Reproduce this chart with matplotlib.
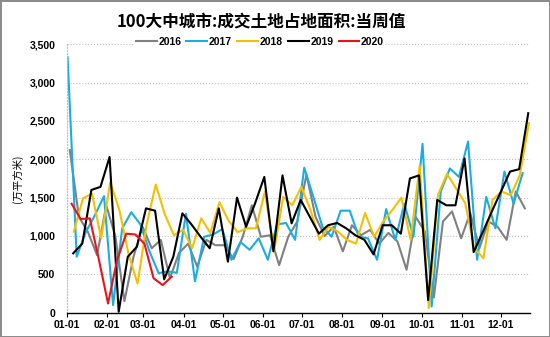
import numpy as np
import matplotlib
matplotlib.use("Agg")
import matplotlib.pyplot as plt

plt.rcParams["font.family"] = ["Liberation Sans", "Noto Sans CJK SC"]

# month tick positions (day of year) and labels
month_days = [0, 31, 59, 90, 120, 151, 181, 212, 243, 273, 304, 334]
month_labels = ["01-01", "02-01", "03-01", "04-01", "05-01", "06-01",
                "07-01", "08-01", "09-01", "10-01", "11-01", "12-01"]

# weekly values, 万平方米
v2016 = [2120, 1250, 1050, 750, 1400, 1000, 150, 730, 1120, 840,
         950, 450, 780, 900, 600, 950, 880, 880, 700, 990,
         1400, 990, 1010, 620, 990, 1190, 1800, 1250, 1000, 1120,
         800, 1140, 1010, 1080, 900, 1040, 930, 560, 1250, 1060,
         200, 1190, 1320, 970, 1300, 840, 1190, 1120, 950, 1580, 1360]
v2017 = [3330, 730, 1050, 1270, 1520, 100, 1100, 1310, 1150, 800,
         515, 540, 520, 1290, 410, 990, 1020, 1090, 690, 920,
         820, 970, 690, 1150, 1170, 950, 1890, 1510, 1120, 990,
         1330, 1330, 990, 970, 690, 1350, 950, 1420, 990, 2200,
         80, 1580, 1880, 1770, 2230, 690, 1510, 1100, 1840, 1420, 1820]
v2018 = [1056, 1490, 1550, 970, 1700, 1340, 770, 380, 1150, 1670,
         1280, 1010, 1080, 840, 1230, 1040, 1440, 1200, 1050, 1100,
         1100, 1580, 800, 1510, 1400, 1640, 1340, 950, 1120, 1060,
         950, 900, 1300, 990, 1190, 1340, 1500, 950, 1920, 60,
         1530, 1810, 1620, 1430, 840, 710, 1470, 1580, 1530, 1790, 2470]
v2019 = [774, 900, 1600, 1640, 2030, 13, 730, 860, 1360, 1330,
         435, 730, 1295, 1150, 990, 840, 1360, 665, 1500, 1120,
         1430, 1770, 800, 1790, 1165, 1470, 1250, 1030, 1140, 1170,
         1100, 1010, 950, 760, 1140, 1140, 1030, 1750, 1790, 165,
         1470, 1400, 1400, 2010, 790, 1050, 1320, 1580, 1840, 1870, 2600]
v2020 = [1420, 1220, 1230, 690, 120, 690, 1030, 1020, 900, 450, 360, 470]

# day of year of each series' first weekly figure
first_day = {"2016": 2.5, "2017": 0.8, "2018": 5.6, "2019": 5.1, "2020": 3.9}

series = [
    ("2016", v2016, "#808080"),
    ("2017", v2017, "#1AADE4"),
    ("2018", v2018, "#F5C000"),
    ("2019", v2019, "#000000"),
    ("2020", v2020, "#E8141B"),
]

fig = plt.figure(figsize=(5.5, 3.37), dpi=100)
fig.patch.set_edgecolor("#8c8c8c")
fig.patch.set_linewidth(2)
ax = fig.add_axes([0.121, 0.072, 0.843, 0.797])

for name, vals, color in series:
    x = first_day[name] + 7 * np.arange(len(vals))
    ax.plot(x, vals, color=color, linewidth=1.5, label=name)

ax.set_xlim(0, 356.6)
ax.set_ylim(0, 3500)
ax.set_xticks(month_days)
ax.set_xticklabels(month_labels, fontsize=7.5, fontweight="bold")
ax.set_yticks(np.arange(0, 3501, 500))
ax.set_yticklabels([f"{v:,}" for v in range(0, 3501, 500)],
                   fontsize=7.5, fontweight="bold")
ax.tick_params(axis="y", length=0, pad=8)
ax.tick_params(axis="x", length=3, width=0.8, direction="out", pad=2)

ax.grid(axis="y", color="#bfbfbf", linestyle=":", linewidth=0.8)
ax.set_axisbelow(True)
for side in ["top", "right"]:
    ax.spines[side].set_visible(False)
ax.spines["left"].set_color("#bfbfbf")
ax.spines["left"].set_linestyle(":")
ax.spines["left"].set_linewidth(0.8)
ax.spines["bottom"].set_linewidth(1.0)

ax.set_ylabel("(万平方米)", fontsize=7.5, family=["Noto Sans CJK SC"], labelpad=5)

fig.text(0.475, 0.937, "100大中城市:成交土地占地面积:当周值",
         ha="center", va="center", fontsize=12, fontweight="bold",
         family=["Noto Sans CJK SC"])

leg = ax.legend(loc="center", bbox_to_anchor=(0.417, 1.008),
                ncol=5, frameon=True, fontsize=7.5, handlelength=2.0,
                handletextpad=0.15, columnspacing=0.5, borderpad=0.1,
                borderaxespad=0)
leg.get_frame().set_facecolor("white")
leg.get_frame().set_edgecolor("none")
leg.get_frame().set_alpha(1)
for t in leg.get_texts():
    t.set_fontweight("bold")

fig.savefig("out.png", dpi=100)
